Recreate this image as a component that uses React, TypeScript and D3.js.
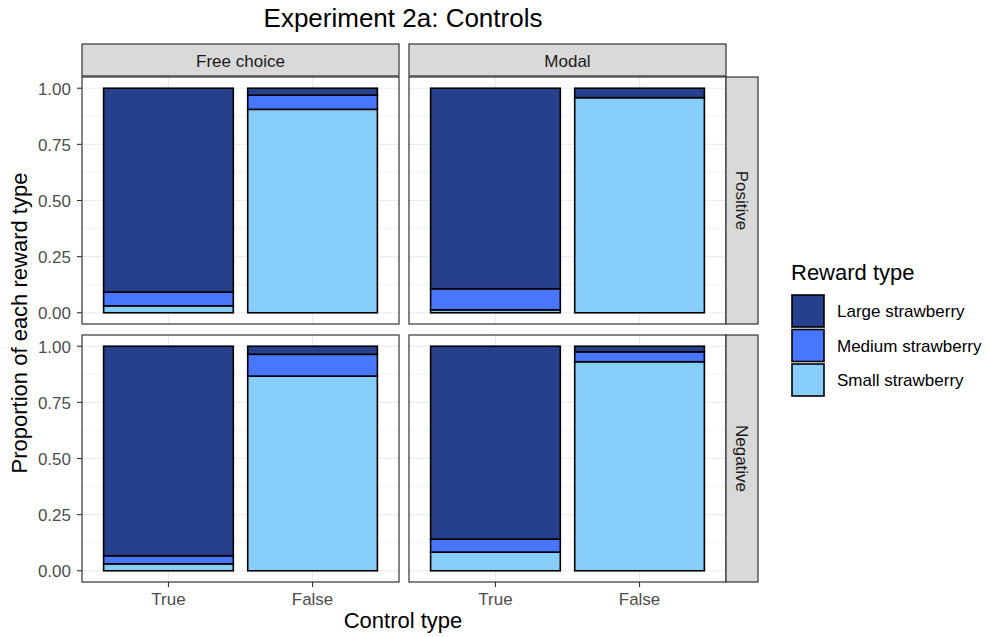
import React from 'react';
import * as d3 from 'd3';

// facet labels and categories
const columnFacets = ['Free choice', 'Modal'];
const rowFacets = ['Positive', 'Negative'];
const controlTypes = ['True', 'False'];
const rewardTypes = ['Large strawberry', 'Medium strawberry', 'Small strawberry'];
const rewardColors = ['#27408B', '#4876FF', '#87CEFA'];
const yTicks = [0, 0.25, 0.5, 0.75, 1];

// proportions per panel (row-major: FC-Pos, Modal-Pos, FC-Neg, Modal-Neg), [True, False]
const smallProp = [[0.031, 0.906], [0.013, 0.958], [0.031, 0.867], [0.083, 0.931]];
const mediumProp = [[0.061, 0.063], [0.094, 0.0], [0.036, 0.097], [0.058, 0.044]];
const largeProp = [[0.908, 0.031], [0.893, 0.042], [0.933, 0.036], [0.859, 0.025]];

const W = 989;
const H = 637;
const panelX = [82, 409];
const panelW = 317;
const panelY = [77, 335];
const panelH = 247;
const stripH = 32;
const font = '"Liberation Sans", Arial, sans-serif';

// ggplot-like discrete axis: 0.6 expansion each side, bars 0.9 wide
const xScale = d3.scalePoint<string>().domain(controlTypes).range([0.6 * panelW / 2.2, 1.6 * panelW / 2.2]);
const barW = 0.9 * panelW / 2.2;
const yScale = d3.scaleLinear().domain([-0.05, 1.05]).range([panelH, 0]);

const Panel = ({ px, py, idx }: { px: number; py: number; idx: number }) => {
  const minor = [0.125, 0.375, 0.625, 0.875];
  const fills = [rewardColors[2], rewardColors[1], rewardColors[0]];
  const stacks = controlTypes.map((c, i) => {
    const vals = [smallProp[idx][i], mediumProp[idx][i], largeProp[idx][i]];
    let acc = 0;
    return vals.map((v, k) => {
      const y0 = acc;
      acc += v;
      return { c, y0, y1: acc, fill: fills[k] };
    });
  });

  return (
    <g transform={`translate(${px},${py})`}>
      <rect width={panelW} height={panelH} fill="white" />
      {minor.map((t) => (
        <line key={'m' + t} x1={0} x2={panelW} y1={yScale(t)} y2={yScale(t)} stroke="#ebebeb" strokeWidth={0.6} />
      ))}
      {yTicks.map((t) => (
        <line key={'g' + t} x1={0} x2={panelW} y1={yScale(t)} y2={yScale(t)} stroke="#ebebeb" strokeWidth={1.1} />
      ))}
      {controlTypes.map((c) => (
        <line key={'v' + c} x1={xScale(c)} x2={xScale(c)} y1={0} y2={panelH} stroke="#ebebeb" strokeWidth={1.1} />
      ))}
      {stacks.flat().filter((s) => s.y1 - s.y0 > 0).map((s, k) => (
        <rect
          key={k}
          x={(xScale(s.c) as number) - barW / 2}
          y={yScale(s.y1)}
          width={barW}
          height={yScale(s.y0) - yScale(s.y1)}
          fill={s.fill}
          stroke="black"
          strokeWidth={1.6}
        />
      ))}
      <rect width={panelW} height={panelH} fill="none" stroke="#333333" strokeWidth={1.2} />
    </g>
  );
};

const App = () => {
  return (
    <svg width={W} height={H} style={{ position: 'absolute', left: 0, top: 0, fontFamily: font }}>
      <rect width={W} height={H} fill="white" />
      <text x={403} y={27} textAnchor="middle" fontSize={26} fill="black">Experiment 2a: Controls</text>

      {rowFacets.map((r, ri) =>
        columnFacets.map((c, ci) => (
          <Panel key={r + c} px={panelX[ci]} py={panelY[ri]} idx={ri * 2 + ci} />
        ))
      )}

      {/* column strips */}
      {columnFacets.map((c, ci) => (
        <g key={c} transform={`translate(${panelX[ci]},${panelY[0] - stripH - 1})`}>
          <rect width={panelW} height={stripH} fill="#d9d9d9" stroke="#333333" strokeWidth={1.2} />
          <text x={panelW / 2} y={stripH / 2 + 6.5} textAnchor="middle" fontSize={17} fill="#1a1a1a">{c}</text>
        </g>
      ))}
      {/* row strips */}
      {rowFacets.map((r, ri) => (
        <g key={r} transform={`translate(${panelX[1] + panelW},${panelY[ri]})`}>
          <rect width={stripH} height={panelH} fill="#d9d9d9" stroke="#333333" strokeWidth={1.2} />
          <text transform={`translate(${stripH / 2 - 6.5},${panelH / 2}) rotate(90)`} textAnchor="middle" fontSize={17} fill="#1a1a1a">{r}</text>
        </g>
      ))}

      {/* y axes */}
      {panelY.map((py) => (
        <g key={py} transform={`translate(${panelX[0]},${py})`}>
          {yTicks.map((t) => (
            <g key={t}>
              <line x1={-5} x2={0} y1={yScale(t)} y2={yScale(t)} stroke="#333333" strokeWidth={1.1} />
              <text x={-11} y={yScale(t) + 6.5} textAnchor="end" fontSize={17} fill="#4d4d4d">{d3.format('.2f')(t)}</text>
            </g>
          ))}
        </g>
      ))}

      {/* x axes */}
      {panelX.map((px) => (
        <g key={px} transform={`translate(${px},${panelY[1] + panelH})`}>
          {controlTypes.map((c) => (
            <g key={c}>
              <line x1={xScale(c)} x2={xScale(c)} y1={0} y2={5} stroke="#333333" strokeWidth={1.1} />
              <text x={xScale(c)} y={23} textAnchor="middle" fontSize={17} fill="#4d4d4d">{c}</text>
            </g>
          ))}
        </g>
      ))}

      <text x={403} y={628} textAnchor="middle" fontSize={22} fill="black">Control type</text>
      <text transform={`translate(27,323) rotate(-90)`} textAnchor="middle" fontSize={22} fill="black">Proportion of each reward type</text>

      {/* legend */}
      <g transform="translate(791,260)">
        <text x={0} y={20} fontSize={22} fill="black">Reward type</text>
        {rewardTypes.map((rt, i) => (
          <g key={rt} transform={`translate(0,${35 + i * 34.5})`}>
            <rect x={1} y={0} width={32} height={32} fill={rewardColors[i]} stroke="black" strokeWidth={1.6} />
            <text x={46} y={22} fontSize={17} fill="black">{rt}</text>
          </g>
        ))}
      </g>
    </svg>
  );
};

export default App;
